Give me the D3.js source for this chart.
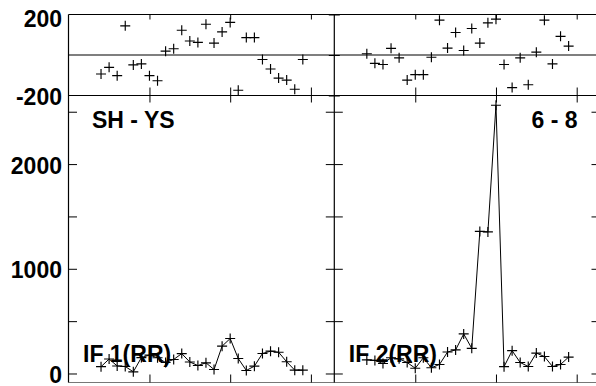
<!DOCTYPE html>
<meta charset="utf-8">
<style>
    body { margin: 0; background: #fff; }
    svg { display: block; }
    text {
        font-family: "Liberation Sans", Arial, Helvetica, sans-serif;
        font-weight: bold;
        font-size: 23px;
        fill: #000;
    }
    .frame { stroke: #000; stroke-width: 1.2px; fill: none; }
    .tick line { stroke: #000; stroke-width: 1px; }
    .mark { stroke: #000; stroke-width: 1.15px; fill: none; }
    .rrline { stroke: #000; stroke-width: 1px; fill: none; }
</style>
<svg id="chart" width="596" height="386"></svg>
<script src="https://cdn.jsdelivr.net/npm/d3@7"></script>
<script>
    // x positions (sample number) shared by all four panels
    var weeks = [1, 2, 3, 4, 5, 6, 7, 8, 9, 10, 11, 12, 13, 14, 15, 16, 17, 18, 19, 20, 21, 22, 23, 24, 25, 26];
    var weekTicks = [7, 17, 27];

    // upper strip: differences
    var shYs = [-94, -61, -102, 144, -49, -44, -102, -127, 19, 31, 122, 69, 62, 152, 59, 114, 161, -174, 86, 86, -22, -69, -114, -124, -169, -22];
    var sixEight = [6, -41, -47, 33, -14, -124, -97, -97, -11, 172, 34, 111, 22, 131, 59, 159, 177, -47, -161, -14, -147, 14, 172, -44, 92, 44];

    // lower strip: IF (RR)
    var ifOne = [65, 138, 72, 67, 16, 152, 176, 150, 105, 134, 190, 110, 76, 102, 38, 261, 334, 143, 29, 70, 191, 213, 203, 112, 32, 32];
    var ifTwo = [130, 125, 95, 150, 140, 105, 50, 150, 55, 86, 205, 225, 378, 240, 1357, 1352, 2562, 65, 218, 105, 67, 195, 162, 67, 86, 157];

    var diffTicks = [-200, 0, 200];
    var diffLabels = [-200, 200];
    var rrTicks = [0, 500, 1000, 1500, 2000, 2500];
    var rrLabels = [0, 1000, 2000];

    var diffTitles = ["SH - YS", "6 - 8"];
    var rrTitles = ["IF 1(RR)", "IF 2(RR)"];

    var svg = d3.select("#chart");

    var edgeL = 68.5, edgeM = 334.3, edgeR = 600,
        edgeT = 14.5, edgeS = 95.5, edgeB = 382.5;

    var yTop = d3.scaleLinear().domain([-200, 200]).range([edgeS, edgeT]);
    var yBot = d3.scaleLinear().domain([-86, 2655]).range([edgeB, edgeS]);

    var panels = [
        { x0: edgeL, x1: edgeM, diff: shYs, rr: ifOne, title: diffTitles[0], rrTitle: rrTitles[0] },
        { x0: edgeM, x1: edgeR, diff: sixEight, rr: ifTwo, title: diffTitles[1], rrTitle: rrTitles[1] }
    ];

    function cleanAxis(g) {
        g.select(".domain").remove();
    }

    // frame lines
    var frame = svg.append("g");
    [edgeT, yTop(0), edgeS].forEach(function (y) {
        frame.append("line").attr("class", "frame")
            .attr("x1", edgeL).attr("x2", edgeR).attr("y1", y).attr("y2", y);
    });
    frame.append("line").attr("class", "frame")
        .attr("x1", edgeL).attr("x2", edgeR).attr("y1", edgeB).attr("y2", edgeB)
        .style("stroke", "#777").style("stroke-width", "1px");
    [edgeL, edgeM, edgeR].forEach(function (x) {
        frame.append("line").attr("class", "frame")
            .attr("x1", x).attr("x2", x).attr("y1", edgeT).attr("y2", edgeB);
    });

    // y ticks on lower strip: left border, middle (both sides), right border
    svg.append("g").attr("transform", "translate(" + edgeL + ",0)")
        .call(d3.axisRight(yBot).tickValues(rrTicks).tickSize(8.5).tickFormat(""))
        .call(cleanAxis);
    svg.append("g").attr("transform", "translate(" + edgeM + ",0)")
        .call(d3.axisRight(yBot).tickValues(rrTicks).tickSize(8.5).tickFormat(""))
        .call(cleanAxis);
    svg.append("g").attr("transform", "translate(" + edgeM + ",0)")
        .call(d3.axisLeft(yBot).tickValues(rrTicks).tickSize(8.5).tickFormat(""))
        .call(cleanAxis);
    svg.append("g").attr("transform", "translate(" + edgeR + ",0)")
        .call(d3.axisLeft(yBot).tickValues(rrTicks).tickSize(8.5).tickFormat(""))
        .call(cleanAxis);

    // y ticks on upper strip at the middle line
    svg.append("g").attr("transform", "translate(" + edgeM + ",0)")
        .call(d3.axisRight(yTop).tickValues(diffTicks).tickSize(5.5).tickFormat(""))
        .call(cleanAxis);
    svg.append("g").attr("transform", "translate(" + edgeM + ",0)")
        .call(d3.axisLeft(yTop).tickValues(diffTicks).tickSize(5.5).tickFormat(""))
        .call(cleanAxis);

    // y labels on the left
    var labels = svg.append("g");
    labels.selectAll(".dl").data(diffLabels).enter().append("text")
        .attr("x", edgeL - 6.5)
        .attr("y", function (d) { return Math.max(yTop(d) + 9.5, 27); })
        .attr("text-anchor", "end")
        .text(function (d) { return d; });
    labels.selectAll(".rl").data(rrLabels).enter().append("text")
        .attr("x", edgeL - 6.5)
        .attr("y", function (d) { return Math.min(yBot(d) + 9.5, 382.5); })
        .attr("text-anchor", "end")
        .text(function (d) { return d; });

    var mark = "M-5,0H5M0,-5V5";

    panels.forEach(function (p, k) {
        var x = d3.scaleLinear().domain([-3.03, 29.9]).range([p.x0, p.x0 + 265.8]);

        // x ticks, all pointing inward
        svg.append("g").attr("transform", "translate(0," + edgeT + ")")
            .call(d3.axisBottom(x).tickValues(weekTicks).tickSize(5).tickFormat(""))
            .call(cleanAxis);
        svg.append("g").attr("transform", "translate(0," + edgeS + ")")
            .call(d3.axisTop(x).tickValues(weekTicks).tickSize(8).tickFormat(""))
            .call(cleanAxis);
        svg.append("g").attr("transform", "translate(0," + edgeS + ")")
            .call(d3.axisBottom(x).tickValues(weekTicks).tickSize(7).tickFormat(""))
            .call(cleanAxis);
        svg.append("g").attr("transform", "translate(0," + edgeB + ")")
            .call(d3.axisTop(x).tickValues(weekTicks).tickSize(8).tickFormat(""))
            .call(cleanAxis);

        // upper strip: markers only
        svg.append("g").selectAll("path")
            .data(p.diff)
            .enter().append("path")
            .attr("class", "mark")
            .attr("transform", function (d, i) { return "translate(" + x(weeks[i]) + "," + yTop(d) + ")"; })
            .attr("d", mark);

        // lower strip: line + markers
        var line = d3.line()
            .x(function (d, i) { return x(weeks[i]); })
            .y(function (d) { return yBot(d); });

        svg.append("path")
            .datum(p.rr)
            .attr("class", "rrline")
            .attr("d", line);

        svg.append("g").selectAll("path")
            .data(p.rr)
            .enter().append("path")
            .attr("class", "mark")
            .attr("transform", function (d, i) { return "translate(" + x(weeks[i]) + "," + yBot(d) + ")"; })
            .attr("d", mark);

        // panel titles
        if (k == 0) {
            svg.append("text").attr("x", p.x0 + 23.5).attr("y", 128).text(p.title);
        } else {
            svg.append("text").attr("x", p.x1 - 22.5).attr("y", 128)
                .attr("text-anchor", "end").text(p.title);
        }
        svg.append("text").attr("x", p.x0 + 14.5).attr("y", 362).text(p.rrTitle);
    });
</script>
